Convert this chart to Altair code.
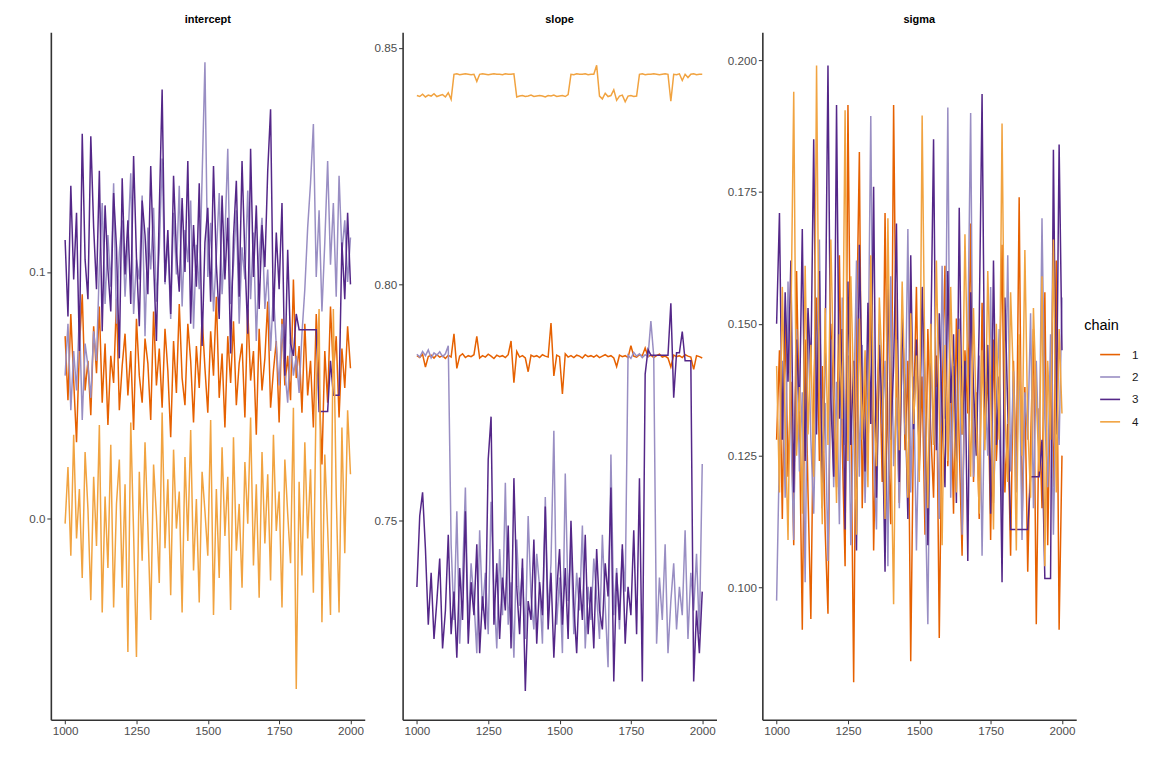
import altair as alt
import pandas as pd

# iteration index (thinned to every 10th draw)
iterations = list(range(1000, 2001, 10))
chains = ["1", "2", "3", "4"]
chain_colors = ["#e66101", "#998ec3", "#542788", "#f1a340"]
parameters = ["intercept", "slope", "sigma"]

# ---------------- intercept ----------------
intercept_1 = [0.074, 0.048, 0.083, 0.056, 0.031, 0.069, 0.091, 0.052, 0.064, 0.042, 0.078,
               0.059, 0.086, 0.047, 0.071, 0.038, 0.066, 0.055, 0.089, 0.044, 0.062,
               0.075, 0.050, 0.068, 0.036, 0.081, 0.058, 0.047, 0.073, 0.063, 0.040,
               0.084, 0.054, 0.069, 0.045, 0.077, 0.060, 0.033, 0.072, 0.051, 0.087,
               0.057, 0.046, 0.079, 0.064, 0.039, 0.070, 0.053, 0.082, 0.061, 0.043,
               0.076, 0.058, 0.090, 0.049, 0.067, 0.037, 0.074, 0.055, 0.080, 0.046,
               0.063, 0.071, 0.041, 0.085, 0.056, 0.068, 0.034, 0.077, 0.052, 0.065,
               0.088, 0.045, 0.060, 0.072, 0.039, 0.081, 0.054, 0.066, 0.048, 0.097,
               0.057, 0.070, 0.043, 0.079, 0.050, 0.064, 0.037, 0.083, 0.055, 0.022,
               0.068, 0.047, 0.086, 0.059, 0.074, 0.041, 0.069, 0.053, 0.078, 0.061, 0.075]
intercept_2 = [0.058, 0.079, 0.044, 0.068, 0.052, 0.083, 0.040, 0.071, 0.062, 0.049, 0.076, 0.064,
               0.102, 0.128, 0.087, 0.115, 0.094, 0.136, 0.079, 0.108, 0.121,
               0.090, 0.112, 0.140, 0.083, 0.105, 0.097, 0.131, 0.074, 0.118, 0.101,
               0.126, 0.088, 0.109, 0.146, 0.095, 0.113, 0.081, 0.124, 0.099, 0.135,
               0.086, 0.117, 0.104, 0.129, 0.077, 0.111, 0.093, 0.138, 0.185, 0.098,
               0.120, 0.084, 0.107, 0.132, 0.091, 0.114, 0.150, 0.087, 0.103, 0.125,
               0.079, 0.110, 0.097, 0.133, 0.089, 0.116, 0.072, 0.106, 0.122, 0.085,
               0.101, 0.068, 0.092,
               0.070, 0.054, 0.079, 0.060, 0.047, 0.073, 0.058, 0.066, 0.051, 0.075,
               0.093, 0.118, 0.136, 0.160, 0.098, 0.125, 0.084, 0.112, 0.145, 0.103,
               0.128, 0.090, 0.139, 0.108, 0.121, 0.096, 0.114]
intercept_3 = [0.113, 0.082, 0.135, 0.097, 0.124, 0.068, 0.156, 0.105, 0.089, 0.155, 0.118,
               0.093, 0.141, 0.076, 0.127, 0.101, 0.084, 0.132, 0.110, 0.065, 0.138,
               0.099, 0.121, 0.087, 0.147, 0.106, 0.078, 0.129, 0.115, 0.091, 0.143,
               0.104, 0.072, 0.125, 0.174, 0.096, 0.117, 0.083, 0.139, 0.108, 0.092,
               0.130, 0.100, 0.145, 0.079, 0.119, 0.094, 0.136, 0.070, 0.112, 0.126,
               0.088, 0.143, 0.103, 0.081, 0.131, 0.097, 0.122, 0.067, 0.114, 0.137,
               0.090, 0.145, 0.106, 0.075, 0.150, 0.098, 0.127, 0.085, 0.119, 0.102,
               0.141, 0.166, 0.080, 0.116, 0.093, 0.128, 0.058, 0.109, 0.071,
               0.066, 0.083,
               0.0766, 0.0766, 0.0766, 0.0766, 0.0766, 0.0766, 0.0766,
               0.0435, 0.0435, 0.0435, 0.0435,
               0.064,
               0.050, 0.050, 0.050,
               0.112, 0.089, 0.124, 0.095]
intercept_4 = [-0.002, 0.021, -0.015, 0.034, -0.008, 0.012, -0.024, 0.027, 0.004, -0.033, 0.017,
               -0.011, 0.038, -0.038, 0.009, -0.020, 0.030, -0.036, 0.006, 0.024, -0.028,
               0.014, -0.054, 0.039, -0.006, -0.056, 0.019, -0.017, 0.031, -0.003, -0.041,
               0.022, 0.001, -0.026, 0.043, -0.012, 0.016, -0.031, 0.028, -0.004, 0.011,
               -0.038, 0.025, -0.009, 0.036, -0.021, 0.008, -0.034, 0.019, 0.003, -0.015,
               0.040, -0.039, 0.012, -0.024, 0.029, -0.007, 0.017, -0.037, 0.033, -0.013,
               0.006, -0.028, 0.023, -0.002, 0.041, -0.019, 0.014, -0.032, 0.027, -0.010,
               0.018, -0.025, 0.034, -0.005, 0.011, -0.036, 0.024, 0.002, -0.018, 0.045,
               -0.069, 0.015, -0.023, 0.031, -0.008, 0.020, -0.030, 0.052, 0.085, -0.042,
               0.026, -0.004, -0.039, 0.085, 0.010, -0.038, 0.037, -0.014, 0.044, 0.018, 0.028]

# ---------------- slope ----------------
slope_1 = [0.7849, 0.7845, 0.7852, 0.7825, 0.7847, 0.7850, 0.7844, 0.7851, 0.7846, 0.7849, 0.7843,
           0.7850, 0.7846, 0.7895, 0.7822, 0.7848, 0.7853, 0.7845, 0.7849, 0.7847, 0.7851,
           0.7890, 0.7844, 0.7849, 0.7846, 0.7852, 0.7848, 0.7843, 0.7850, 0.7847, 0.7849,
           0.7845, 0.7851, 0.7880, 0.7792, 0.7858, 0.7846, 0.7849, 0.7844, 0.7815, 0.7850,
           0.7847, 0.7849, 0.7845, 0.7851, 0.7848, 0.7846, 0.7918, 0.7806, 0.7850, 0.7847,
           0.7768, 0.7853, 0.7846, 0.7849, 0.7845, 0.7850, 0.7848, 0.7844, 0.7851, 0.7847,
           0.7849, 0.7846, 0.7850, 0.7845, 0.7848, 0.7851, 0.7847, 0.7849, 0.7844, 0.7826,
           0.7850, 0.7847, 0.7849, 0.7845, 0.7870, 0.7848, 0.7846, 0.7851, 0.7849, 0.7865,
           0.7847, 0.7850, 0.7845, 0.7849, 0.7852, 0.7846, 0.7848, 0.7844, 0.7825, 0.7850,
           0.7847, 0.7849, 0.7845, 0.7851, 0.7848, 0.7846, 0.7820, 0.7849, 0.7847, 0.7844, 0.7842]
slope_2 = [0.7852, 0.7846, 0.7858, 0.7849, 0.7861, 0.7844, 0.7855, 0.7850, 0.7857, 0.7847, 0.7853, 0.7870,
           0.745, 0.729, 0.752, 0.724, 0.738, 0.757, 0.727, 0.741, 0.733,
           0.722, 0.748, 0.731, 0.739, 0.726, 0.754, 0.735, 0.723, 0.744, 0.730,
           0.758, 0.728, 0.737, 0.721, 0.746, 0.732, 0.740, 0.725, 0.751, 0.734,
           0.727, 0.743, 0.736, 0.724, 0.755, 0.730, 0.741, 0.769, 0.728, 0.738,
           0.722, 0.760, 0.733, 0.745, 0.726, 0.739, 0.731, 0.749, 0.723, 0.736,
           0.729, 0.742, 0.734, 0.725, 0.747, 0.732, 0.719, 0.764, 0.730, 0.740,
           0.727, 0.744, 0.735,
           0.7850, 0.7843, 0.7856, 0.7848, 0.7853, 0.7845, 0.7851, 0.7847, 0.7922, 0.7849,
           0.724, 0.738, 0.729, 0.745, 0.722, 0.733, 0.741, 0.727, 0.736, 0.730,
           0.748, 0.725, 0.739, 0.731, 0.743, 0.726, 0.762]
slope_3 = [0.736, 0.751, 0.756, 0.744, 0.728, 0.739, 0.725, 0.733, 0.742, 0.723, 0.731,
           0.747, 0.726, 0.735, 0.721, 0.740, 0.729, 0.752, 0.724, 0.737, 0.730,
           0.745, 0.722, 0.734, 0.727, 0.763, 0.772, 0.728, 0.741, 0.725, 0.738,
           0.731, 0.749, 0.723, 0.759, 0.736, 0.726, 0.742, 0.714, 0.733, 0.729,
           0.746, 0.724, 0.737, 0.730, 0.753, 0.727, 0.739, 0.721, 0.735, 0.744,
           0.728, 0.740, 0.725, 0.750, 0.732, 0.722, 0.738, 0.729, 0.747, 0.726,
           0.736, 0.723, 0.744, 0.731, 0.727, 0.741, 0.734, 0.757, 0.716, 0.739,
           0.729, 0.745, 0.724, 0.736, 0.730, 0.748, 0.726, 0.759,
           0.716,
           0.781, 0.7862,
           0.7850, 0.7850, 0.7850, 0.7850, 0.7850, 0.7850, 0.7850,
           0.7960, 0.7760,
           0.7855, 0.7855,
           0.7900,
           0.7838, 0.7838, 0.7838,
           0.716, 0.731, 0.722, 0.735]
slope_4 = [0.8399, 0.8397, 0.8402, 0.8396, 0.8400, 0.8398, 0.8403, 0.8397, 0.8399, 0.8401, 0.8396, 0.8405, 0.8391,
           0.8444, 0.8445, 0.8443, 0.8444, 0.8445, 0.8444, 0.8443, 0.8444, 0.8429, 0.8444, 0.8445,
           0.8444, 0.8443, 0.8444, 0.8445, 0.8444, 0.8444, 0.8443, 0.8445, 0.8444, 0.8444, 0.8445,
           0.8396, 0.8398, 0.8399, 0.8397, 0.8398, 0.8400, 0.8397, 0.8398, 0.8399, 0.8398,
           0.8396, 0.8399, 0.8398, 0.8400, 0.8397, 0.8398, 0.8399, 0.8397, 0.8401,
           0.8444, 0.8443, 0.8445, 0.8444, 0.8444, 0.8445, 0.8443, 0.8444, 0.8444,
           0.8463,
           0.8398, 0.8392, 0.8404, 0.8397, 0.8399, 0.8411, 0.8389, 0.8398, 0.8400, 0.8386,
           0.8398, 0.8399, 0.8397, 0.8398,
           0.8444, 0.8445, 0.8443, 0.8444, 0.8444, 0.8445, 0.8444, 0.8443, 0.8444, 0.8445,
           0.8444, 0.8387, 0.8444, 0.8443, 0.8445, 0.8431, 0.8444, 0.8437, 0.8444, 0.8445,
           0.8443, 0.8444, 0.8444]

# ---------------- sigma ----------------
sigma_1 = [0.128, 0.145, 0.113, 0.152, 0.121, 0.139, 0.108, 0.160, 0.131, 0.092, 0.147,
           0.118, 0.094, 0.137, 0.155, 0.124, 0.142, 0.111, 0.095, 0.150, 0.133,
           0.119, 0.163, 0.127, 0.104, 0.1915, 0.136, 0.082, 0.148, 0.1826, 0.115,
           0.141, 0.125, 0.158, 0.107, 0.134, 0.146, 0.120, 0.171, 0.129, 0.112,
           0.1915, 0.138, 0.116, 0.153, 0.126, 0.143, 0.086, 0.132, 0.157, 0.122,
           0.140, 0.110, 0.149, 0.130, 0.117, 0.144, 0.0904, 0.135, 0.161, 0.123,
           0.139, 0.114, 0.151, 0.127, 0.106, 0.145, 0.133, 0.169, 0.120, 0.137,
           0.113, 0.154, 0.128, 0.142, 0.109, 0.147, 0.124, 0.136, 0.165, 0.118,
           0.131, 0.106, 0.143, 0.121, 0.174, 0.112, 0.138, 0.103, 0.127, 0.149,
           0.093, 0.134, 0.115, 0.156, 0.108, 0.141, 0.119, 0.162, 0.092, 0.125, 0.098]
sigma_2 = [0.0975, 0.126, 0.143, 0.117, 0.158, 0.130, 0.109, 0.149, 0.122, 0.137, 0.101,
           0.152, 0.128, 0.114, 0.141, 0.166, 0.124, 0.135, 0.105, 0.147, 0.119,
           0.139, 0.112, 0.155, 0.127, 0.144, 0.108, 0.133, 0.162, 0.121, 0.146,
           0.116, 0.138, 0.1894, 0.125, 0.111, 0.150, 0.131, 0.143, 0.104, 0.159,
           0.123, 0.136, 0.115, 0.148, 0.129, 0.168, 0.118, 0.140, 0.107, 0.134,
           0.153, 0.120, 0.093, 0.145, 0.127, 0.138, 0.113, 0.161, 0.132, 0.191,
           0.117, 0.142, 0.126, 0.151, 0.110, 0.137, 0.147, 0.190, 0.121, 0.133,
           0.144, 0.106, 0.139, 0.125, 0.157, 0.116, 0.135, 0.149, 0.112, 0.130,
           0.163, 0.122, 0.141, 0.118, 0.146, 0.109, 0.137, 0.128, 0.152, 0.115,
           0.143, 0.124, 0.170, 0.132, 0.119, 0.148, 0.110, 0.139, 0.127, 0.155, 0.121]
sigma_3 = [0.150, 0.171, 0.128, 0.156, 0.139, 0.162, 0.118, 0.147, 0.133, 0.168, 0.124,
           0.153, 0.141, 0.185, 0.129, 0.160, 0.115, 0.144, 0.199, 0.136, 0.121,
           0.1915, 0.132, 0.149, 0.111, 0.158, 0.127, 0.143, 0.107, 0.165, 0.138,
           0.122, 0.154, 0.131, 0.176, 0.117, 0.146, 0.134, 0.103, 0.159, 0.128,
           0.142, 0.169, 0.120, 0.151, 0.137, 0.113, 0.163, 0.130, 0.147, 0.124,
           0.157, 0.139, 0.108, 0.145, 0.185, 0.126, 0.152, 0.133, 0.119, 0.160,
           0.135, 0.148, 0.116, 0.172, 0.129, 0.143, 0.105, 0.156, 0.138, 0.125,
           0.150, 0.1936, 0.131, 0.146, 0.114, 0.162, 0.127, 0.140, 0.101, 0.155, 0.134,
           0.111, 0.111, 0.111, 0.111, 0.111, 0.111, 0.111,
           0.121, 0.121, 0.121, 0.121,
           0.128,
           0.1017, 0.1017, 0.1017,
           0.183, 0.129, 0.184, 0.145]
sigma_4 = [0.142, 0.118, 0.157, 0.131, 0.109, 0.149, 0.194, 0.125, 0.138, 0.114, 0.161,
           0.129, 0.146, 0.121, 0.199, 0.135, 0.112, 0.153, 0.127, 0.166, 0.140,
           0.116, 0.148, 0.132, 0.1905, 0.124, 0.159, 0.137, 0.110, 0.151, 0.128,
           0.145, 0.119, 0.163, 0.134, 0.123, 0.155, 0.141, 0.113, 0.170, 0.130,
           0.0968, 0.147, 0.126, 0.158, 0.136, 0.117, 0.152, 0.131, 0.144, 0.120,
           0.1895, 0.139, 0.115, 0.150, 0.127, 0.162, 0.133, 0.108, 0.146, 0.124,
           0.157, 0.135, 0.118, 0.149, 0.129, 0.167, 0.140, 0.121, 0.153, 0.132,
           0.114, 0.145, 0.126, 0.160, 0.137, 0.111, 0.150, 0.128, 0.188, 0.134,
           0.120, 0.156, 0.139, 0.107, 0.148, 0.125, 0.164, 0.131, 0.117, 0.153,
           0.136, 0.122, 0.159, 0.104, 0.143, 0.128, 0.166, 0.118, 0.149, 0.133, 0.112]

series = {
    "intercept": [intercept_1, intercept_2, intercept_3, intercept_4],
    "slope": [slope_1, slope_2, slope_3, slope_4],
    "sigma": [sigma_1, sigma_2, sigma_3, sigma_4],
}

rows = []
for p in parameters:
    for c, vals in zip(chains, series[p]):
        for it, v in zip(iterations, vals):
            rows.append({"parameter": p, "chain": c, "iteration": it, "value": v})
df = pd.DataFrame(rows)

y_domains = {"intercept": [-0.0815, 0.1972], "slope": [0.7079, 0.8533], "sigma": [0.0749, 0.2053]}
y_ticks = {"intercept": [0.0, 0.1], "slope": [0.75, 0.80, 0.85],
           "sigma": [0.100, 0.125, 0.150, 0.175, 0.200]}
y_formats = {"intercept": ".1f", "slope": ".2f", "sigma": ".3f"}
y_extents = {"intercept": 38, "slope": 38, "sigma": 46}

FONT = "Liberation Sans"


def panel(p):
    return alt.Chart(df[df["parameter"] == p]).mark_line(strokeWidth=1.5, clip=True).encode(
        x=alt.X("iteration:Q",
                scale=alt.Scale(domain=[950, 2050], nice=False, zero=False),
                axis=alt.Axis(values=[1000, 1250, 1500, 1750, 2000], format="d", title=None,
                              grid=False)),
        y=alt.Y("value:Q",
                scale=alt.Scale(domain=y_domains[p], nice=False, zero=False),
                axis=alt.Axis(values=y_ticks[p], format=y_formats[p], title=None, grid=False,
                              minExtent=y_extents[p], maxExtent=y_extents[p])),
        color=alt.Color("chain:N", scale=alt.Scale(domain=chains, range=chain_colors),
                        legend=alt.Legend(title="chain", orient="none", legendX=1037, legendY=288,
                                          symbolType="stroke", symbolSize=400,
                                          symbolStrokeWidth=1.6, rowPadding=4.5,
                                          symbolOffset=15,
                                          titleFontSize=14.5, titleFontWeight="normal",
                                          titleColor="#000000", titlePadding=10,
                                          labelFontSize=11.7, labelColor="#1a1a1a",
                                          labelOffset=11, titleFont=FONT, labelFont=FONT)),
        order=alt.Order("iteration:Q"),
    ).properties(
        width=315, height=690,
        title=alt.TitleParams(p, fontSize=11, fontWeight="bold", font=FONT,
                              color="#000000", offset=7, anchor="middle"),
    )


chart = alt.hconcat(*[panel(p) for p in parameters], spacing=0).properties(
    padding={"left": 5, "top": 5, "right": 5, "bottom": 5},
    background="white",
).configure_axis(
    grid=False, domainColor="#333333", domainWidth=1.6, tickColor="#333333",
    tickSize=4, tickWidth=1, labelColor="#4d4d4d", labelFontSize=11.7, labelFont=FONT,
    labelPadding=2,
).configure_view(stroke=None)

chart.save("out.html", embed_options={"renderer": "svg", "actions": False})
